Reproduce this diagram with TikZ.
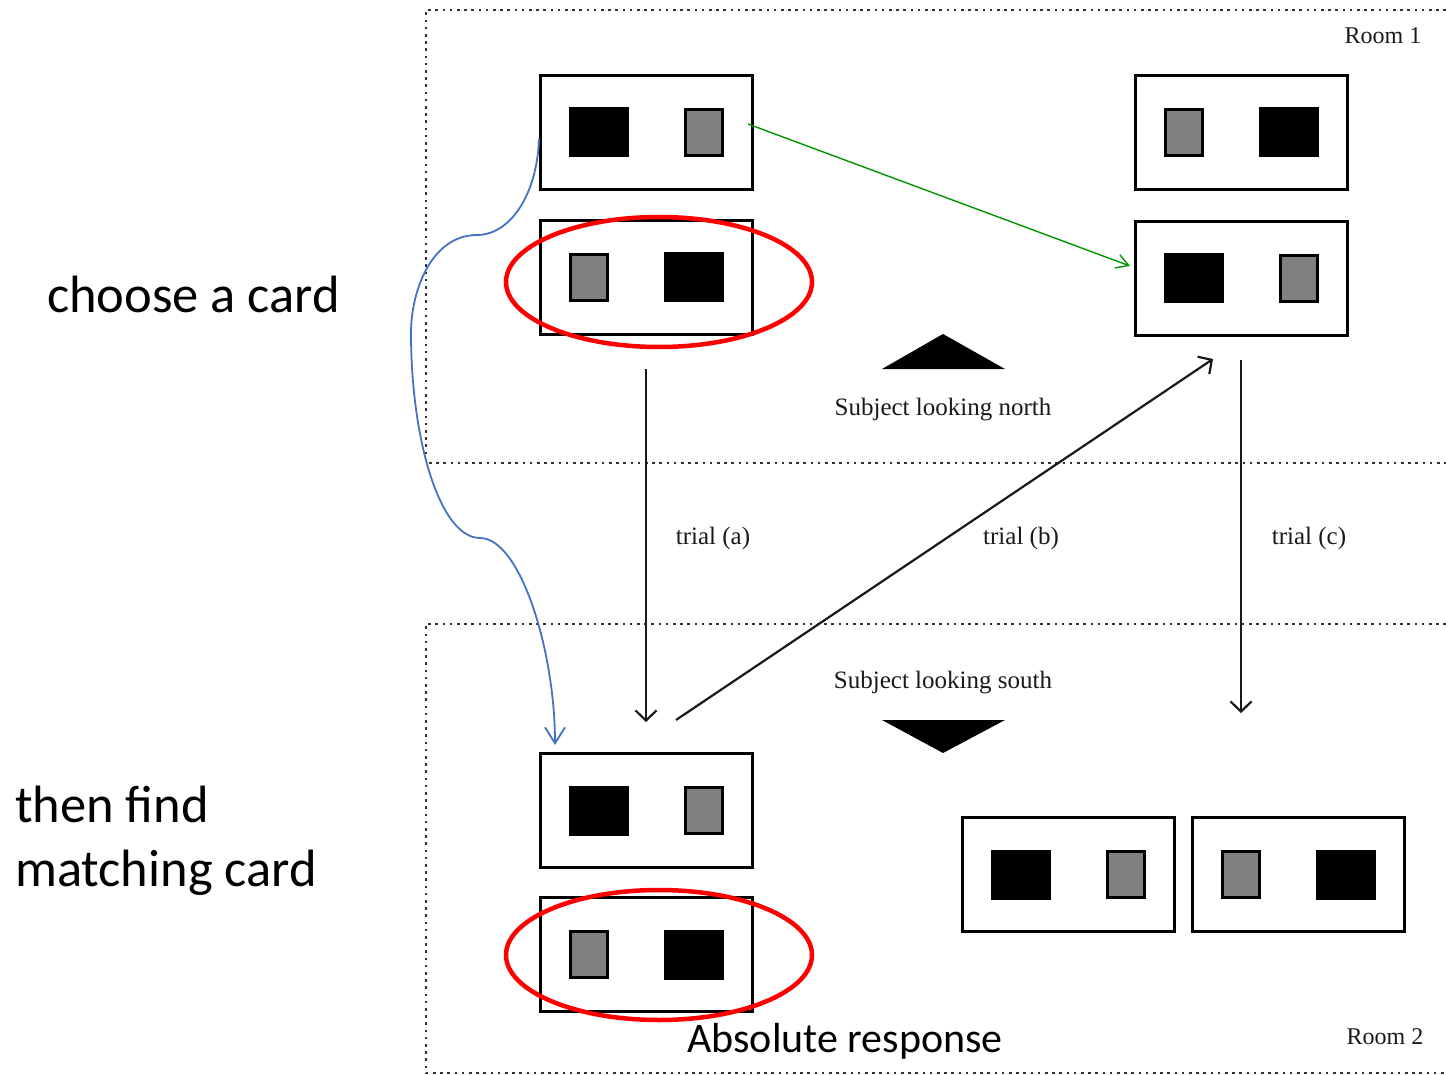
\documentclass[tikz,border=0pt]{standalone}
\usepackage{fontspec}
\setmainfont{Liberation Serif}
\newfontfamily\calib{Carlito}
\usetikzlibrary{arrows.meta,shapes.geometric}
\definecolor{cardgray}{RGB}{128,128,128}
\definecolor{arrgreen}{RGB}{0,150,0}
\definecolor{arrblue}{RGB}{68,114,196}
\definecolor{dotgray}{RGB}{50,50,50}
\tikzset{
  cardbox/.style={draw=black, line width=3pt, minimum width=212pt, minimum height=114pt, inner sep=0pt, outer sep=0pt},
  blacksq/.style={draw=black, fill=black, line width=2pt, minimum width=58pt, minimum height=48pt, inner sep=0pt},
  graysq/.style={draw=black, fill=cardgray, line width=3pt, minimum width=37pt, minimum height=46pt, inner sep=0pt},
  roomline/.style={draw=dotgray, line width=2.8pt, dash pattern=on 2.6pt off 4.6pt},
  redring/.style={ellipse, draw=red, line width=4.5pt, minimum width=306pt, minimum height=130pt, inner sep=0pt},
  trialarrow/.style={draw=black!90, line width=2.2pt, -{Straight Barb[length=10pt,width=21pt]}},
  greenarrow/.style={draw=arrgreen, line width=1.4pt, -{Straight Barb[length=12pt,width=14pt]}},
  bluearrow/.style={draw=arrblue, line width=1.8pt, -{Straight Barb[length=16pt,width=20pt]}},
  serlabel/.style={text=black!90, font=\fontsize{25}{30}\selectfont, inner sep=0pt},
  sanslabel/.style={text=black, font=\calib\fontsize{52.5}{64}\selectfont, inner sep=0pt, align=left}
}
\newcommand\cardBG[3]{%
  \node[cardbox] (#1) at (#2,#3) {};
  \node[blacksq] (#1-l) at ([xshift=-47.5pt]#1.center) {};
  \node[graysq] (#1-r) at ([xshift=57.5pt]#1.center) {};}
\newcommand\cardGB[3]{%
  \node[cardbox] (#1) at (#2,#3) {};
  \node[graysq] (#1-l) at ([xshift=-57.5pt]#1.center) {};
  \node[blacksq] (#1-r) at ([xshift=47.5pt]#1.center) {};}
\begin{document}
\begin{tikzpicture}[x=1pt,y=-1pt]
\useasboundingbox (0,0) rectangle (1446,1075);
% rooms
\draw[roomline] (1446,10) -- (426,10) -- (426,463) -- (1446,463);
\draw[roomline] (1446,624) -- (426,624) -- (426,1073) -- (1446,1073);
\node[serlabel, font=\fontsize{24}{28}\selectfont] (room1) at (1383,36) {Room 1};
\node[serlabel, font=\fontsize{24}{28}\selectfont] (room2) at (1385,1037) {Room 2};
% cards
\cardBG{A}{646}{132.5}
\cardGB{B}{646}{277.5}
\cardGB{C}{1241}{132.5}
\cardBG{D}{1241}{278.5}
\cardBG{E}{646}{810.5}
\cardGB{F}{646}{954.5}
\cardBG{G}{1068.5}{874.5}
\cardGB{H}{1298.5}{874.5}
% red rings
\node[redring] (ring1) at (659,282) {};
\node[redring] (ring2) at (659,955) {};
% triangles
\fill[black] (882,369) -- (943,334) -- (1005,369) -- cycle;
\fill[black] (882,720) -- (943,753) -- (1005,720) -- cycle;
% labels
\node[serlabel] (north) at (943,410) {Subject looking north};
\node[serlabel] (south) at (943,683) {Subject looking south};
\node[serlabel] (ta) at (713,538) {trial (a)};
\node[serlabel] (tb) at (1021,538) {trial (b)};
\node[serlabel] (tc) at (1309,538) {trial (c)};
\node[sanslabel, anchor=west] (choose) at (47,294) {choose a card};
\node[sanslabel, anchor=north west] (then) at (15,786) {then find\\matching card};
\node[sanslabel, font=\calib\fontsize{42}{50}\selectfont] (abs) at (845,1041) {Absolute response};
% arrow end points
\coordinate (ta1) at (646,369);
\coordinate (ta2) at (646,722);
\coordinate (tb1) at (676,720);
\coordinate (tb2) at (1213,359);
\coordinate (tc1) at (1241,360);
\coordinate (tc2) at (1241,713);
\coordinate (g1) at (748,124);
\coordinate (g2) at (1130,266);
\coordinate (b1) at (539,139);
\coordinate (b2) at (555,745);
\draw[trialarrow] (ta1) -- (ta2);
\draw[trialarrow] (tb1) -- (tb2);
\draw[trialarrow] (tc1) -- (tc2);
\draw[greenarrow] (g1) -- (g2);
\draw[bluearrow] (b1) .. controls (537,195) and (510,235) .. (477,235)
  .. controls (432,235) and (411,290) .. (411,333)
  .. controls (411,440) and (440,538) .. (480,538)
  .. controls (520,538) and (555,650) .. (b2);
\end{tikzpicture}
\end{document}
